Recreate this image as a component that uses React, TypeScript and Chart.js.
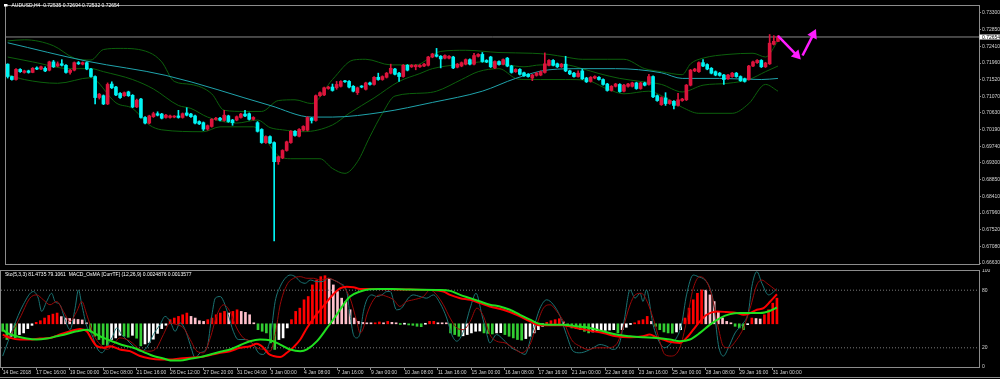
import React, { useEffect, useRef } from "react";
import { Chart, registerables } from "chart.js";

Chart.register(...registerables);

// ---------- texts ----------
const mainTitle = "AUDUSD,H4  0.72535 0.72694 0.72532 0.72654";
const subTitle = "Sto(5,3,3) 81.4735 79.1061  MACD_OsMA [CurrTF] (12,26,9) 0.0024876 0.0013577";

// ---------- candles (H4 bars, index 0 = 14 Dec 2018) ----------
const opens = [
  .7193, .7160, .7152, .7179, .7171, .7175, .7171, .7183, .7180, .7182,
  .7177, .7199, .7188, .7194, .7190, .7171, .7177, .7197, .7193, .7197,
  .7180, .7160, .7104, .7109, .7087, .7140, .7132, .7115, .7109, .7119,
  .7110, .7079, .7100, .7051, .7036, .7053, .7061, .7060, .7051, .7051,
  .7052, .7055, .7051, .7063, .7060, .7055, .7040, .7037, .7020, .7027,
  .7046, .7049, .7043, .7055, .7044, .7044, .7051, .7060, .7061, .7046,
  .7037, .7019, .6984, .7000, .6984, .6933, .6943, .6963, .6984, .7014,
  .7001, .7017, .7017, .7049, .7043, .7109, .7111, .7128, .7132, .7130,
  .7134, .7147, .7147, .7134, .7117, .7134, .7126, .7143, .7139, .7158,
  .7152, .7158, .7169, .7180, .7169, .7160, .7190, .7186, .7186, .7186,
  .7188, .7190, .7212, .7218, .7214, .7209, .7209, .7212, .7185, .7188,
  .7193, .7205, .7193, .7214, .7219, .7203, .7212, .7183, .7200, .7193,
  .7209, .7188, .7173, .7179, .7170, .7166, .7156, .7163, .7164, .7171,
  .7190, .7203, .7194, .7186, .7193, .7175, .7169, .7160, .7175, .7156,
  .7147, .7156, .7158, .7152, .7140, .7123, .7134, .7139, .7121, .7134,
  .7134, .7143, .7128, .7143, .7139, .7160, .7109, .7085, .7103, .7088,
  .7094, .7083, .7096, .7098, .7137, .7175, .7173, .7197, .7192, .7182,
  .7173, .7169, .7164, .7154, .7160, .7169, .7160, .7154, .7152, .7188,
  .7197, .7203, .7186, .7194, .7246, .72535,
];
const highs = [
  .7194, .7161, .7181, .7181, .7177, .7177, .7184, .7186, .7188, .7186,
  .7201, .7203, .7199, .7205, .7192, .7179, .7199, .7200, .7199, .7199,
  .7182, .7162, .7115, .7111, .7143, .7146, .7134, .7117, .7119, .7121,
  .7112, .7100, .7102, .7053, .7057, .7065, .7066, .7062, .7059, .7057,
  .7056, .7070, .7063, .7077, .7062, .7057, .7042, .7039, .7031, .7048,
  .7051, .7051, .7070, .7057, .7046, .7055, .7062, .7070, .7063, .7053,
  .7040, .7021, .7002, .7002, .6986, .6948, .6965, .6988, .7016, .7016,
  .7021, .7029, .7053, .7051, .7111, .7119, .7132, .7134, .7140, .7147,
  .7149, .7150, .7149, .7136, .7132, .7136, .7145, .7145, .7160, .7169,
  .7162, .7171, .7193, .7182, .7171, .7192, .7192, .7192, .7192, .7192,
  .7195, .7214, .7222, .7235, .7216, .7218, .7216, .7214, .7195, .7199,
  .7207, .7207, .7222, .7221, .7224, .7205, .7214, .7202, .7202, .7207,
  .7211, .7190, .7181, .7181, .7172, .7168, .7166, .7171, .7175, .7223,
  .7205, .7205, .7196, .7195, .7214, .7177, .7171, .7175, .7180, .7158,
  .7160, .7162, .7160, .7154, .7142, .7136, .7142, .7141, .7139, .7142,
  .7145, .7145, .7145, .7145, .7166, .7162, .7111, .7106, .7117, .7098,
  .7096, .7115, .7102, .7139, .7179, .7182, .7199, .7205, .7194, .7184,
  .7175, .7171, .7166, .7166, .7171, .7171, .7162, .7156, .7190, .7201,
  .7205, .7205, .7198, .7272, .7269, .72694,
];
const lows = [
  .7156, .7150, .7150, .7171, .7169, .7169, .7170, .7178, .7178, .7173,
  .7175, .7184, .7186, .7188, .7169, .7166, .7175, .7192, .7191, .7178,
  .7158, .7087, .7100, .7085, .7085, .7128, .7109, .7102, .7107, .7107,
  .7077, .7077, .7049, .7034, .7034, .7051, .7055, .7047, .7049, .7049,
  .7050, .7049, .7049, .7055, .7051, .7034, .7032, .7016, .7017, .7025,
  .7044, .7042, .7041, .7038, .7030, .7042, .7049, .7053, .7044, .7044,
  .7012, .6982, .6982, .6981, .6722, .6926, .6941, .6961, .6982, .7001,
  .6999, .7015, .7015, .7036, .7041, .7107, .7109, .7126, .7121, .7126,
  .7132, .7144, .7130, .7119, .7112, .7130, .7124, .7137, .7137, .7150,
  .7150, .7156, .7167, .7164, .7147, .7158, .7175, .7184, .7178, .7184,
  .7186, .7188, .7210, .7212, .7183, .7207, .7207, .7181, .7183, .7186,
  .7191, .7191, .7191, .7212, .7198, .7197, .7184, .7181, .7190, .7191,
  .7186, .7169, .7171, .7164, .7160, .7158, .7149, .7161, .7162, .7169,
  .7188, .7188, .7184, .7184, .7173, .7165, .7158, .7158, .7152, .7144,
  .7145, .7154, .7150, .7137, .7121, .7121, .7132, .7118, .7119, .7132,
  .7132, .7126, .7126, .7135, .7137, .7104, .7094, .7083, .7083, .7086,
  .7074, .7081, .7094, .7096, .7135, .7173, .7171, .7186, .7178, .7167,
  .7162, .7161, .7139, .7152, .7158, .7158, .7147, .7145, .7150, .7186,
  .7195, .7184, .7184, .7192, .7244, .72532,
];
const closes = [
  .7160, .7152, .7179, .7173, .7175, .7171, .7182, .7180, .7186, .7175,
  .7199, .7186, .7194, .7190, .7171, .7177, .7197, .7194, .7197, .7180,
  .7160, .7104, .7113, .7087, .7139, .7130, .7111, .7104, .7117, .7109,
  .7079, .7097, .7051, .7036, .7055, .7061, .7057, .7049, .7057, .7055,
  .7054, .7051, .7061, .7057, .7053, .7036, .7034, .7020, .7029, .7046,
  .7049, .7044, .7057, .7040, .7037, .7053, .7060, .7055, .7046, .7051,
  .7014, .6984, .7000, .6983, .6933, .6946, .6963, .6986, .7014, .7003,
  .7019, .7027, .7051, .7043, .7109, .7117, .7130, .7132, .7123, .7139,
  .7147, .7146, .7132, .7121, .7130, .7132, .7143, .7139, .7158, .7152,
  .7160, .7169, .7182, .7166, .7160, .7190, .7177, .7190, .7190, .7190,
  .7193, .7212, .7220, .7214, .7207, .7216, .7214, .7183, .7193, .7197,
  .7205, .7193, .7216, .7219, .7200, .7199, .7186, .7200, .7192, .7205,
  .7188, .7171, .7179, .7166, .7162, .7160, .7164, .7169, .7173, .7194,
  .7203, .7190, .7186, .7193, .7175, .7167, .7160, .7169, .7154, .7146,
  .7158, .7160, .7152, .7139, .7123, .7134, .7140, .7120, .7137, .7140,
  .7143, .7128, .7143, .7137, .7160, .7106, .7096, .7104, .7088, .7096,
  .7083, .7098, .7100, .7137, .7177, .7180, .7197, .7188, .7180, .7169,
  .7164, .7163, .7152, .7164, .7169, .7160, .7149, .7147, .7188, .7199,
  .7203, .7186, .7196, .7249, .7254, .72654,
];

// ---------- main-window overlays: [bar index, price] ----------
const maLine = [
  [0, .7250], [19, .7201], [38, .7163], [63, .7083], [73, .7052], [78, .7052], [90, .7065],
  [102, .7091], [114, .7121], [122, .7155], [130, .7178], [138, .7181], [146, .7181],
  [157, .7170], [162, .7155], [171, .7155], [181, .7152], [185, .7155],
];
const bbUpper = [
  [0, .7255], [4, .7258], [11, .7242], [16, .7209], [20, .7204], [23, .7232], [27, .7235],
  [34, .7224], [37, .7199], [40, .7147], [44, .7139], [49, .7114], [52, .7070], [57, .7067],
  [61, .7067], [65, .7096], [69, .7098], [73, .7088], [78, .7152], [83, .7204], [86, .7206],
  [92, .7191], [98, .7191], [104, .7227], [110, .7230], [118, .7224], [126, .7222], [130, .7219],
  [134, .7212], [138, .7206], [144, .7206], [148, .7206], [153, .7181], [157, .7173], [162, .7165],
  [164, .7194], [167, .7209], [173, .7219], [179, .7222], [182, .7212], [185, .7255],
];
const bbMiddle = [
  [0, .7212], [6, .7199], [15, .7181], [20, .7181], [23, .7173], [30, .7152], [35, .7127],
  [41, .7083], [44, .7075], [48, .7052], [55, .7036], [60, .7044], [63, .7024], [66, .7018],
  [71, .7013], [78, .7031], [82, .7062], [88, .7103], [94, .7147], [99, .7168], [102, .7181],
  [110, .7194], [114, .7199], [120, .7191], [124, .7186], [128, .7191], [134, .7191], [138, .7181],
  [142, .7168], [147, .7155], [152, .7147], [157, .7139], [162, .7119], [167, .7137], [173, .7142],
  [178, .7152], [182, .7173], [185, .7188],
];
const bbLower = [
  [0, .7165], [4, .7152], [12, .7142], [20, .7157], [21, .7152], [26, .7090], [30, .7075],
  [34, .7031], [37, .7018], [47, .7013], [51, .7026], [59, .7026], [65, .6949], [68, .6941],
  [75, .6941], [78, .6915], [81, .6902], [84, .6933], [87, .7000], [90, .7062], [93, .7108],
  [100, .7116], [103, .7121], [109, .7152], [113, .7173], [118, .7181], [122, .7155], [124, .7152],
  [128, .7152], [134, .7152], [139, .7150], [144, .7127], [148, .7114], [154, .7121], [157, .7109],
  [162, .7078], [166, .7062], [174, .7062], [178, .7088], [182, .7139], [185, .7121],
];
const bidPrice = 0.72654;
const arrowDown = [[185.0, .72682], [189.5, .72170]];
const arrowUp = [[190.9, .72160], [193.5, .72723]];

const priceTicks = [
  0.73300, 0.72850, 0.72410, 0.71960, 0.71520, 0.71070, 0.70630, 0.70190,
  0.69740, 0.69300, 0.68850, 0.68410, 0.67960, 0.67520, 0.67080, 0.66630,
];

// ---------- time axis ----------
const timeLabels = [
  "14 Dec 2018", "17 Dec 16:00", "19 Dec 00:00", "20 Dec 08:00", "21 Dec 16:00", "26 Dec 12:00",
  "27 Dec 20:00", "31 Dec 04:00", "3 Jan 00:00", "4 Jan 08:00", "7 Jan 16:00", "9 Jan 00:00",
  "10 Jan 08:00", "11 Jan 16:00", "15 Jan 00:00", "16 Jan 08:00", "17 Jan 16:00", "21 Jan 00:00",
  "22 Jan 08:00", "23 Jan 16:00", "25 Jan 00:00", "28 Jan 08:00", "29 Jan 16:00", "31 Jan 00:00",
];
const timeLabelBars = [
  0, 8, 16, 24, 32, 40, 48, 56, 64, 72, 80, 88,
  96, 104, 112, 120, 128, 136, 144, 152, 160, 168, 176, 184,
];

// ---------- sub window (0..100 window scale) ----------
const subTicks = [0, 20, 80, 100];
const stochLevels = [20, 80];
const osmaBase = 45;
const osmaBars = [
  37.2, 28.6, 32, 30.3, 33.8, 35.5, 40, 43.4, 46.5, 48.2,
  51, 53.7, 55.1, 56.2, 52.5, 51, 50.5, 50, 49.5, 49,
  46, 37.2, 32, 28.6, 23.4, 22.5, 28.6, 30.3, 33, 32,
  31, 33, 30, 22, 24, 25.5, 29, 35, 40, 43.5,
  49.3, 51, 52.7, 54.4, 56.2, 52.7, 51, 48.2, 47.5, 49.3,
  51, 54.4, 56.2, 57.9, 56.2, 57.9, 59.6, 57.9, 56.9, 54.4,
  45.8, 38.9, 37.2, 35.5, 25.1, 18.3, 28.6, 30.3, 40.7, 49.3,
  57.9, 61.3, 70, 73.4, 85.5, 90.6, 94.1, 95.1, 92.4, 85.5,
  78.6, 71.7, 68.2, 59.6, 51, 47.5, 46.5, 45.4, 45.2, 45.3,
  46.9, 45.6, 47.5, 46.5, 45.2, 44.3, 44.6, 43.8, 43.4, 42.4,
  42, 44.5, 47.5, 47.6, 45.6, 45.3, 45.1, 35.5, 33.8, 32,
  32.5, 33.8, 35.5, 37.2, 37.5, 35.5, 35, 34.4, 35.5, 35.8,
  33.8, 32, 30.3, 28.6, 28, 29.6, 32, 35.5, 38.9, 42.4,
  46.5, 48.2, 49.3, 50.3, 46.9, 42.4, 40.7, 40, 38.9, 37.2,
  35.5, 36.5, 37.2, 37.9, 38.2, 38.5, 38.9, 35.5, 38.9, 41.4,
  44.3, 45.5, 48.2, 49.3, 52.7, 47.5, 42.4, 38.9, 36.5, 35.5,
  35.2, 36.5, 38.9, 51, 61.3, 70, 76.8, 80.3, 80, 75.1,
  68.2, 57.9, 51, 47.5, 45.8, 42.4, 40.7, 38.9, 44.1, 51,
  50.5, 50, 54.4, 59.6, 66.5, 71.7,
];
const stochK = [
  [0, 11.4], [2.5, 40.7], [4.9, 64.8], [7.3, 78.6], [8.5, 71.7], [9.3, 57.9], [10.5, 68.2], [11.7, 76.8],
  [12.5, 68.2], [13.7, 64.8], [14.9, 49.3], [16.1, 38.9], [17.3, 61.3], [18.1, 80.3], [18.9, 64.8],
  [20.1, 42.4], [21.3, 33.8], [22.5, 20], [23.7, 14.8], [24.9, 21.7], [26.1, 30.3], [27.3, 40.7],
  [28.4, 33.8], [29.6, 28.6], [31.2, 21.7], [32.8, 16.5], [34.4, 20], [36, 33.8], [37.6, 44.1],
  [38.8, 52.7], [40, 47.5], [41.2, 37.2], [42.4, 45.8], [43.6, 38.9], [44.8, 23.4], [46, 9.6],
  [47.2, 14.8], [48.8, 20], [50, 54.4], [50.8, 71.7], [52, 73.4], [52.8, 68.2], [53.9, 54.4],
  [55.1, 37.2], [56.3, 28.6], [57.9, 28.6], [59.9, 23.4], [61.1, 14.8], [62.3, 13.1], [63.1, 18.3],
  [63.9, 28.6], [65.1, 68.2], [66.3, 83.7], [67.5, 92.4], [68.7, 95.8], [69.9, 94.1], [71.1, 88.9],
  [72.3, 87.2], [73.5, 90.6], [75.1, 88.9], [76.3, 88.9], [77.8, 92.4], [79, 90.6], [80.6, 87.2],
  [82.2, 78.6], [83, 54.4], [83.8, 33.8], [84.6, 30.3], [85.4, 35.5], [86.2, 57.9], [87, 70],
  [88.2, 75.1], [89.4, 73.4], [90.6, 75.1], [91.8, 78.6], [92.6, 78.6], [94.1, 59.6], [95.3, 61.3],
  [96.9, 71.7], [98.1, 75.1], [99.7, 73.4], [101.3, 71.7], [102.9, 75.1], [104.5, 66.5], [106.1, 51],
  [107.3, 33.8], [108.5, 26.9], [110.1, 37.2], [111.7, 61.3], [113.1, 76.8], [114.5, 54.4],
  [115.7, 33.8], [116.4, 25.1], [118, 33.8], [119.6, 28.6], [121.6, 20], [123.2, 16.5], [124.8, 13.1],
  [126.4, 33.8], [128.4, 61.3], [130, 70], [131.6, 64.8], [133.2, 52.7], [134.7, 33.8], [136.3, 16.5],
  [137.9, 14.8], [139.5, 16.5], [141.1, 20], [142.7, 23.4], [144.3, 21.7], [145.8, 18.3], [147.4, 25.1],
  [148.6, 51], [149.9, 80.3], [151.1, 71.7], [152.3, 76.8], [153, 68.2], [153.8, 80.3], [155.4, 44.1],
  [157, 25.1], [158.2, 20], [159.8, 25.1], [161, 30.3], [162.2, 44.1], [163.4, 75.1], [165, 95.8],
  [166.2, 94.1], [167.8, 90.6], [169, 82], [169.8, 68.2], [171, 23.4], [172.2, 11.4], [173.4, 20],
  [175, 35.5], [176.6, 44.1], [178.2, 57.9], [179, 83.7], [180.2, 99.3], [181.4, 87.2], [183, 75.1],
  [185, 81.5],
];
const stochD = [
  [0, 30.3], [1.8, 33.8], [4.1, 51], [6.5, 71.7], [8.1, 75.1], [9.7, 70], [11.3, 64.8], [12.9, 68.2],
  [14.5, 57.9], [16.1, 47.5], [17.7, 57.9], [18.9, 68.2], [20.1, 54.4], [21.7, 33.8], [23.3, 23.4],
  [24.9, 18.3], [26.5, 23.4], [28, 30.3], [30.4, 26.9], [32.8, 18.3], [35.2, 16.5], [36.8, 20],
  [38.4, 33.8], [40, 45.8], [41.6, 44.1], [43.2, 40.7], [44.8, 28.6], [46.4, 16.5], [48, 14.8],
  [49.6, 30.3], [51.2, 54.4], [52.8, 64.8], [54.3, 57.9], [55.9, 40.7], [57.5, 30.3], [59.1, 26.9],
  [60.7, 20], [62.3, 18.3], [63.9, 16.5], [65.1, 33.8], [66.3, 64.8], [67.9, 85.5], [69.5, 92.4],
  [71.1, 94.1], [72.7, 92.4], [74.3, 92.4], [75.9, 90.6], [77.8, 92.4], [79.8, 88.9], [81.4, 83.7],
  [83, 71.7], [84.6, 47.5], [85.4, 35.5], [86.2, 40.7], [87, 54.4], [88.6, 70], [90.2, 75.1],
  [91.8, 73.4], [93.4, 70], [94.9, 63.1], [96.5, 68.2], [98.1, 70], [100.5, 73.4], [102.1, 80.3],
  [103.7, 75.1], [105.3, 64.8], [106.9, 51], [108.5, 40.7], [110.1, 38.9], [111.7, 47.5], [113.3, 61.3],
  [114.9, 52.7], [116.4, 33.8], [118, 26.9], [120, 25.1], [122, 20], [124, 14.8], [126, 23.4],
  [127.6, 44.1], [129.2, 61.3], [130.8, 64.8], [132.4, 57.9], [134, 47.5], [135.9, 28.6], [137.9, 21.7],
  [139.9, 18.3], [141.9, 20], [144.3, 20], [146.6, 23.4], [148.2, 40.7], [149.9, 64.8], [151.1, 75.1],
  [152.6, 76.8], [153.8, 70], [155.4, 51], [157, 26.9], [158.2, 13.1], [159.8, 11.4], [161.8, 20],
  [163.4, 47.5], [165, 82], [166.6, 94.1], [168.2, 88.9], [169.4, 75.1], [171, 40.7], [172.2, 21.7],
  [173.4, 20], [175.4, 28.6], [177, 40.7], [178.6, 61.3], [180.2, 85.5], [181.4, 90.6], [182.6, 87.2],
  [185, 79.1],
];
const macdLine = [
  [0, 33.8], [1.8, 30.3], [4.1, 28.6], [6.5, 28.6], [8.9, 29.6], [11.3, 30.3], [13.7, 33.8], [16.1, 37.2],
  [18.5, 39.6], [20.1, 37.2], [21.3, 28.6], [22.5, 21.7], [24.1, 20], [25.7, 21.7], [28, 18.3],
  [30.4, 16.5], [32.8, 11.4], [35.2, 8.9], [37.6, 7.9], [40, 7.9], [42.4, 8.9], [44.8, 9.6], [47.2, 10.3],
  [49.6, 12.4], [52, 14.8], [54.3, 16.5], [56.7, 20], [59.1, 21.7], [60.7, 24.1], [62.3, 20], [63.5, 13.8],
  [64.7, 11.4], [66.3, 10.3], [67.9, 14.8], [69.5, 20.7], [71.1, 28.6], [72.7, 40.7], [74.3, 51],
  [75.9, 59.6], [77.5, 68.2], [79, 75.8], [80.6, 82], [82.2, 83.7], [83.8, 83.1], [85.4, 81.3],
  [89.4, 81.3], [93, 81], [97.3, 80.6], [102.1, 80.3], [105.3, 78.6], [106.9, 75.1], [109.3, 71.7],
  [111.7, 70], [114.1, 66.5], [116.4, 63.1], [119.6, 59.6], [122.8, 54.4], [126, 47.5], [128.4, 43.4],
  [130.8, 43.4], [134, 43.4], [137.1, 40.7], [140.3, 37.9], [143.5, 35.5], [146.6, 32], [149.9, 31],
  [153, 32], [154.6, 33.8], [156.2, 31], [157.8, 28.6], [159.4, 26.2], [161.8, 25.1], [163.4, 30.3],
  [165, 38.9], [166.6, 47.5], [168.2, 54.4], [170.6, 57.9], [173, 57.2], [175.4, 56.2], [177, 54.4],
  [178.6, 56.2], [180.2, 59.6], [181.8, 61.3], [183.4, 68.2], [185, 75.8],
];
const signalLine = [
  [0, 38.9], [1, 35.5], [3.3, 32], [5.7, 29.6], [8.1, 28.6], [10.5, 29.6], [12.9, 32], [15.3, 34.4],
  [17.7, 37.2], [20.1, 38.9], [21.7, 35.5], [24.1, 30.3], [26.5, 26.2], [28.8, 22.7], [31.2, 20],
  [33.6, 15.8], [36, 11.4], [38.4, 8.9], [40, 6.9], [42.4, 6.9], [44.8, 8.6], [47.2, 10.3], [49.6, 13.1],
  [52, 15.8], [54.3, 18.3], [56.7, 22.7], [59.1, 26.9], [61.5, 28.6], [63.9, 27.9], [66.3, 23.4],
  [68.7, 18.3], [71.1, 16.5], [72.7, 18.3], [75.1, 26.9], [77.5, 40.7], [79.8, 54.4], [81.4, 64.8],
  [83, 73.4], [85.4, 78.6], [87.8, 81], [90.2, 81.3], [93, 81.2], [97.3, 80.6], [104.5, 80.3],
  [106.9, 79.3], [109.3, 75.1], [111.7, 71.7], [114.1, 68.2], [116.4, 64.8], [118.8, 63.1],
  [121.2, 59.6], [123.6, 54.4], [126, 49.3], [128.4, 44.8], [130.8, 44.1], [134, 44.1], [137.1, 42.4],
  [140.3, 40.7], [143.5, 37.2], [146.6, 33.8], [149.9, 32], [153, 31], [156.2, 30.3], [159.4, 28.6],
  [161.8, 26.9], [164.2, 28.6], [166.6, 35.5], [169, 44.1], [171.4, 51], [173.8, 55.1], [176.2, 56.2],
  [178.6, 56.2], [181, 56.2], [183.4, 58.6], [185, 62],
];

// ---------- styling ----------
const FONT = "'Liberation Sans', Arial, sans-serif";
const X_MIN = -0.406;
const X_MAX = 233.28;
const UP_COLOR = "#dc143c";
const DOWN_COLOR = "#00f4f4";
const FRAME = "#8c8c8c";
const TEXT = "#d4d4d4";
const MAGENTA = "#ff1cff";

const toPoints = (pairs: number[][]) => pairs.map(([x, y]) => ({ x, y }));

const lineDs = (data: number[][], color: string, width: number, order: number) => ({
  type: "line",
  data: toPoints(data),
  borderColor: color,
  borderWidth: width,
  pointRadius: 0,
  cubicInterpolationMode: "monotone",
  fill: false,
  order,
});

export default function App() {
  const mainRef = useRef<HTMLCanvasElement | null>(null);
  const subRef = useRef<HTMLCanvasElement | null>(null);

  useEffect(() => {
    document.body.style.margin = "0";
    document.body.style.background = "#000";

    const candleColors = closes.map((c, i) => (c >= opens[i] ? UP_COLOR : DOWN_COLOR));
    const osmaColors = osmaBars.map((v, i) => {
      const prev = i > 0 ? osmaBars[i - 1] : v;
      if (v >= osmaBase) return v >= prev ? "#ff0000" : "#ffc0cb";
      return v <= prev ? "#32cd32" : "#ffffff";
    });

    const framePlugin = (title: string, withIcon: boolean, withBid: boolean, bottomLine: boolean) => ({
      id: "mtFrame",
      afterDraw(chart: any) {
        const { ctx, chartArea } = chart;
        const l = Math.round(chartArea.left);
        const t = Math.round(chartArea.top);
        const r = Math.round(chartArea.right);
        const b = Math.round(chartArea.bottom);
        ctx.save();
        ctx.strokeStyle = FRAME;
        ctx.lineWidth = 1;
        ctx.strokeRect(l - 0.5, t - 0.5, r - l + 1, b - t + 1);
        if (bottomLine) {
          ctx.beginPath();
          ctx.moveTo(0, chart.height - 1.5);
          ctx.lineTo(chart.width, chart.height - 1.5);
          ctx.stroke();
        }
        ctx.font = `5px ${FONT}`;
        ctx.textBaseline = "middle";
        ctx.textAlign = "left";
        ctx.fillStyle = "#ffffff";
        if (withIcon) {
          ctx.fillRect(4, 4, 3.5, 2.5);
          ctx.fillText(title, 11.5, 5.6);
        } else {
          ctx.fillText(title, 5, 5.6);
        }
        if (withBid) {
          const y = chart.scales.y.getPixelForValue(bidPrice);
          ctx.fillStyle = "#ffffff";
          ctx.fillRect(r + 0.5, Math.round(y) - 2.5, 21, 5);
          ctx.fillStyle = "#000000";
          ctx.fillText(bidPrice.toFixed(5), r + 3, y + 0.3);
        }
        ctx.restore();
      },
    });

    const mainChart = new Chart(mainRef.current as HTMLCanvasElement, {
      type: "bar",
      data: {
        datasets: [
          {
            type: "line",
            data: toPoints(arrowDown),
            borderColor: MAGENTA,
            borderWidth: 2.5,
            pointRadius: [0, 6],
            pointStyle: "triangle",
            pointRotation: [0, 136.6],
            pointBackgroundColor: MAGENTA,
            pointBorderColor: MAGENTA,
            pointBorderWidth: 0,
            order: -2,
          },
          {
            type: "line",
            data: toPoints(arrowUp),
            borderColor: MAGENTA,
            borderWidth: 2.5,
            pointRadius: [0, 6],
            pointStyle: "triangle",
            pointRotation: [0, 26],
            pointBackgroundColor: MAGENTA,
            pointBorderColor: MAGENTA,
            pointBorderWidth: 0,
            order: -1,
          },
          {
            type: "bar",
            data: closes.map((c, i) => ({ x: i, y: [opens[i], c] })),
            backgroundColor: candleColors,
            barThickness: 3,
            minBarLength: 1,
            grouped: false,
            order: 0,
          },
          {
            type: "bar",
            data: highs.map((h, i) => ({ x: i, y: [lows[i], h] })),
            backgroundColor: candleColors,
            barThickness: 1,
            grouped: false,
            order: 1,
          },
          lineDs(maLine, "#1fa3ab", 1, 2),
          lineDs(bbUpper, "#0c600c", 1, 3),
          lineDs(bbMiddle, "#0c600c", 1, 3),
          lineDs(bbLower, "#0c600c", 1, 3),
          {
            type: "line",
            data: [{ x: X_MIN, y: bidPrice }, { x: X_MAX, y: bidPrice }],
            borderColor: "#8a8a8a",
            borderWidth: 1,
            pointRadius: 0,
            order: 6,
          },
        ],
      } as any,
      options: {
        animation: false,
        responsive: false,
        events: [],
        layout: { padding: { left: 1, top: 2, right: 0, bottom: 1 } },
        plugins: { legend: { display: false }, tooltip: { enabled: false } },
        scales: {
          x: { type: "linear", min: X_MIN, max: X_MAX, display: false, offset: false, grid: { offset: false } },
          y: {
            position: "right",
            min: 0.66604,
            max: 0.7348,
            beginAtZero: false,
            afterBuildTicks: (s: any) => {
              s.ticks = priceTicks.map((v) => ({ value: v }));
            },
            afterFit: (s: any) => {
              s.width = 21;
              s.paddingTop = 0;
              s.paddingBottom = 0;
            },
            ticks: {
              autoSkip: false,
              padding: 1,
              color: TEXT,
              font: { family: FONT, size: 5 },
              callback: (v: any) => Number(v).toFixed(5),
            },
            grid: { drawOnChartArea: false, tickLength: 2, color: FRAME },
            border: { display: false },
          },
        },
      } as any,
      plugins: [framePlugin(mainTitle, true, true, false)],
    });

    const subChart = new Chart(subRef.current as HTMLCanvasElement, {
      type: "bar",
      data: {
        datasets: [
          lineDs(signalLine, "#1fe01f", 2, 0),
          lineDs(macdLine, "#ff0000", 2, 1),
          lineDs(stochD, "#9a0808", 1, 2),
          lineDs(stochK, "#1a7474", 1, 3),
          ...stochLevels.map((lv) => ({
            type: "line",
            data: [{ x: X_MIN, y: lv }, { x: X_MAX, y: lv }],
            borderColor: "#7a7a7a",
            borderWidth: 1,
            borderDash: [1, 2],
            pointRadius: 0,
            order: 4,
          })),
          {
            type: "bar",
            data: osmaBars.map((v, i) => ({ x: i, y: [osmaBase, v] })),
            backgroundColor: osmaColors,
            barThickness: 2,
            minBarLength: 1,
            grouped: false,
            order: 5,
          },
        ],
      } as any,
      options: {
        animation: false,
        responsive: false,
        events: [],
        layout: { padding: { left: 1, top: 2, right: 0, bottom: 0 } },
        plugins: { legend: { display: false }, tooltip: { enabled: false } },
        scales: {
          x: {
            type: "linear",
            min: X_MIN,
            max: X_MAX,
            offset: false,
            afterBuildTicks: (s: any) => {
              s.ticks = timeLabelBars.map((v) => ({ value: v }));
            },
            afterFit: (s: any) => {
              s.height = 12;
              s.paddingLeft = 0;
              s.paddingRight = 0;
            },
            ticks: {
              autoSkip: false,
              maxRotation: 0,
              minRotation: 0,
              align: "start",
              padding: 0,
              color: TEXT,
              font: { family: FONT, size: 5 },
              callback: (_v: any, i: number) => timeLabels[i],
            },
            grid: { drawOnChartArea: false, tickLength: 3, color: FRAME, offset: false },
            border: { display: false },
          },
          y: {
            position: "right",
            min: 0,
            max: 100,
            beginAtZero: false,
            afterBuildTicks: (s: any) => {
              s.ticks = subTicks.map((v) => ({ value: v }));
            },
            afterFit: (s: any) => {
              s.width = 21;
              s.paddingTop = 0;
              s.paddingBottom = 0;
            },
            ticks: {
              autoSkip: false,
              padding: 3,
              color: TEXT,
              font: { family: FONT, size: 5 },
            },
            grid: { drawOnChartArea: false, drawTicks: false, tickLength: 0 },
            border: { display: false },
          },
        },
      } as any,
      plugins: [framePlugin(subTitle, false, false, true)],
    });

    return () => {
      mainChart.destroy();
      subChart.destroy();
    };
  }, []);

  return (
    <div style={{ position: "relative", width: 1000, height: 379, background: "#000", overflow: "hidden" }}>
      <canvas
        ref={mainRef}
        width={1000}
        height={270}
        style={{ position: "absolute", left: 0, top: 0, width: 1000, height: 270 }}
      />
      <canvas
        ref={subRef}
        width={1000}
        height={110}
        style={{ position: "absolute", left: 0, top: 269, width: 1000, height: 110 }}
      />
    </div>
  );
}
